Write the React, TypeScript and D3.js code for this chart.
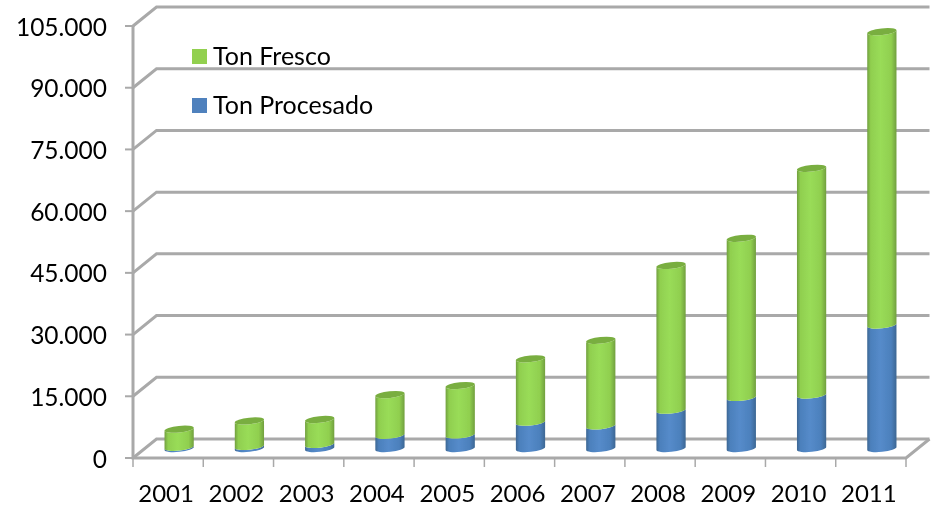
import React from "react";
import * as d3 from "d3";

const years = ["2001","2002","2003","2004","2005","2006","2007","2008","2009","2010","2011"];
const tonProcesado = [300,500,1000,3200,3300,6400,5500,9300,12400,13000,30000];
const tonFresco = [4400,6200,6050,9900,12000,15400,20800,35200,38700,55100,71300];
const yTicks = [0,15000,30000,45000,60000,75000,90000,105000];
const tickLabels = ["0","15.000","30.000","45.000","60.000","75.000","90.000","105.000"];
const legendItems = ["Ton Fresco","Ton Procesado"];

const W = 932, H = 506;
const x0 = 133, x1 = 906, yBottom = 458, yTop = 26;
const depthX = 23.5, depthY = 19;
const rx = 14.7, ry = 3.3, tilt = -6;
const GRID = "#A9A9A9";
const FONT = "Lato, Carlito, sans-serif";

const y = d3.scaleLinear().domain([0,105000]).range([yBottom,yTop]);
const xBand = d3.scaleBand().domain(years).range([x0,x1]);

const dx = rx*Math.cos(tilt*Math.PI/180), dy = rx*Math.sin(tilt*Math.PI/180);
function body(cx:number, top:number, bottom:number){
  return `M${cx-dx},${top-dy} L${cx-dx},${bottom-dy} A${rx},${ry} ${tilt} 0 0 ${cx+dx},${bottom+dy} L${cx+dx},${top+dy} A${rx},${ry} ${tilt} 0 1 ${cx-dx},${top-dy} Z`;
}
function cap(cx:number, top:number){
  return `M${cx-dx},${top-dy} A${rx},${ry} ${tilt} 1 1 ${cx+dx},${top+dy} A${rx},${ry} ${tilt} 1 1 ${cx-dx},${top-dy} Z`;
}

function Grad({id,edge,mid,light}:{id:string,edge:string,mid:string,light:string}){
  return <linearGradient id={id} x1="0" x2="1" y1="0" y2="0">
    <stop offset="0" stopColor={edge}/>
    <stop offset="0.12" stopColor={mid}/>
    <stop offset="0.45" stopColor={light}/>
    <stop offset="0.82" stopColor={mid}/>
    <stop offset="1" stopColor={edge}/>
  </linearGradient>;
}

export default function App(){
  const base = yBottom-depthY/2;
  return <svg width={W} height={H} viewBox={`0 0 ${W} ${H}`} style={{position:"absolute",left:0,top:0,background:"#fff"}}>
    <defs>
      <Grad id="g" edge="#719F3F" mid="#90CF4F" light="#99DC58"/>
      <Grad id="b" edge="#3D6793" mid="#4C80BC" light="#558BCA"/>
      <filter id="soft" x="-5%" y="-5%" width="110%" height="110%"><feGaussianBlur stdDeviation="0.6"/></filter>
      <filter id="softText" x="-5%" y="-5%" width="110%" height="110%"><feGaussianBlur stdDeviation="0.3"/></filter>
    </defs>
    <g filter="url(#soft)">
      {yTicks.map(t=><path key={t} d={`M${x0},${y(t)} L${x0+depthX},${y(t)-depthY} L${x1+depthX},${y(t)-depthY}`} fill="none" stroke={GRID} strokeWidth={3}/>)}
      <path d={`M${x0},${yTop} V${yBottom} H${x1} L${x1+depthX},${yBottom-depthY}`} fill="none" stroke={GRID} strokeWidth={3}/>
      {yTicks.map(t=><line key={t} x1={x0-8} x2={x0} y1={y(t)} y2={y(t)} stroke={GRID} strokeWidth={2}/>)}
      {[...years.map(d=>xBand(d)!),x1].map(v=><line key={v} x1={v} x2={v} y1={yBottom} y2={yBottom+9} stroke={GRID} strokeWidth={1.5}/>)}
      {years.map((d,i)=>{
        const cx = xBand(d)!+xBand.bandwidth()/2+11;
        const yb = y(tonProcesado[i])-depthY/2;
        const yt = y(tonProcesado[i]+tonFresco[i])-depthY/2;
        return <g key={d}>
          <path d={body(cx,yb,base)} fill="url(#b)"/>
          <path d={body(cx,yt,yb)} fill="url(#g)"/>
          <path d={cap(cx,yt)} fill="#79AE40"/>
        </g>;
      })}
      <rect x={192} y={49} width={15} height={15} fill="#92D050"/>
      <rect x={192} y={98} width={15} height={15} fill="#4F81BD"/>
    </g>
    <g fontFamily={FONT} fill="#000" filter="url(#softText)">
      {yTicks.map((t,i)=><text key={t} x={107} y={y(t)+9.5} textAnchor="end" fontSize={24.5}>{tickLabels[i]}</text>)}
      {years.map(d=><text key={d} x={xBand(d)!+xBand.bandwidth()/2-2} y={502} textAnchor="middle" fontSize={24}>{d}</text>)}
      {legendItems.map((s,i)=><text key={s} x={213} y={65+i*49} fontSize={25}>{s}</text>)}
    </g>
  </svg>;
}
